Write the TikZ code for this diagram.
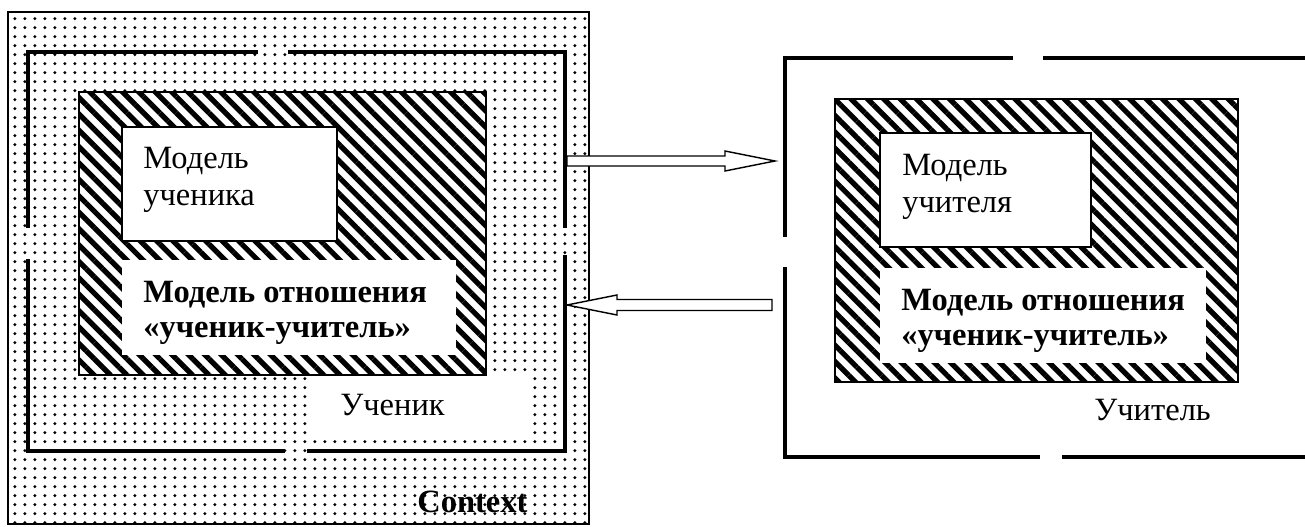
\documentclass[tikz,border=0pt]{standalone}
\usepackage{fontspec}
\setmainfont{Liberation Serif}
\usetikzlibrary{patterns,patterns.meta,calc}

% dot screen of the context area
\pgfdeclarepatternformonly{ctxdots}{\pgfqpoint{0pt}{0pt}}{\pgfqpoint{5.67pt}{5.1pt}}{\pgfqpoint{5.67pt}{5.1pt}}{%
  \pgfpathcircle{\pgfqpoint{2.8pt}{2.5pt}}{0.95pt}\pgfusepath{fill}}

\begin{document}
\begin{tikzpicture}[x=0.02cm, y=-0.02cm,
    context/.style={draw, line width=0.8pt, pattern=ctxdots},
    frame/.style={line width=2.7pt, line join=miter},
    hatched/.style={draw, line width=0.9pt, preaction={fill=white},
      pattern={Lines[angle=-45, distance=6.6pt, line width=3pt]}},
    model box/.style={draw, fill=white, line width=1.4pt},
    blank/.style={fill=white},
    txt/.style={font=\fontsize{18.5}{21}\selectfont, inner sep=0pt, align=left},
    bold txt/.style={txt, font=\fontsize{18.5}{20}\selectfont\bfseries},
    hollow/.style={draw, fill=white, line width=0.8pt, line join=miter}]

  \useasboundingbox (0,0) rectangle (1305,527);

  % ===== Left panel: student inside the context =====
  \path[context] (8,12) rectangle (589,524);

  % broken frame of the student
  \draw[frame] (258,52) -- (28,52) -- (28,228);
  \draw[frame] (288,52) -- (565,52) -- (565,228);
  \draw[frame] (28,259) -- (28,451) -- (285,451);
  \draw[frame] (307,451) -- (565,451) -- (565,255);

  % models
  \path[hatched] (79,92) rectangle (486,375);
  \path[model box] (122,127) rectangle (337,241);
  \fill[blank] (122,260) rectangle (456,355);
  \fill[blank] (307,377) rectangle (533,437);

  \node[txt, anchor=north west] (stuModel) at (143,147) {Модель\\ученика};
  \node[bold txt, anchor=north west] (stuRel) at (143,281)
    {Модель отношения\\«ученик-учитель»};
  \node[txt, anchor=base west] (stuName) at (340,415) {Ученик};
  \node[bold txt, anchor=base west] (ctxName) at (417,512) {Context};

  % ===== Right panel: teacher =====
  \draw[frame] (1013,58) -- (785,58) -- (785,237);
  \draw[frame] (1043,58) -- (1305,58);
  \draw[frame] (785,267) -- (785,457) -- (1040,457);
  \draw[frame] (1062,457) -- (1305,457);

  \path[hatched] (835,99) rectangle (1238,382);
  \path[model box] (880,133) rectangle (1091,247);
  \fill[blank] (880,268) rectangle (1206,363);

  \node[txt, anchor=north west] (tchModel) at (902,154) {Модель\\учителя};
  \node[bold txt, anchor=north west] (tchRel) at (901,289)
    {Модель отношения\\«ученик-учитель»};
  \node[txt, anchor=base west] (tchName) at (1094,420) {Учитель};

  % ===== Hollow arrows between the frames =====
  \coordinate (stuOut) at (567,161);
  \coordinate (tchIn) at (775,161);
  \coordinate (tchOut) at (772,305);
  \coordinate (stuIn) at (567,305);

  \draw[hollow] ($(stuOut)+(0,-5)$) -- ($(tchIn)+(-50,-5)$) -- ($(tchIn)+(-50,-10)$)
    -- (tchIn) -- ($(tchIn)+(-50,10)$) -- ($(tchIn)+(-50,5)$) -- ($(stuOut)+(0,5)$) -- cycle;
  \draw[hollow] ($(tchOut)+(0,-5.5)$) -- ($(stuIn)+(50,-5.5)$) -- ($(stuIn)+(50,-10)$)
    -- (stuIn) -- ($(stuIn)+(50,10)$) -- ($(stuIn)+(50,5.5)$) -- ($(tchOut)+(0,5.5)$) -- cycle;

\end{tikzpicture}
\end{document}
